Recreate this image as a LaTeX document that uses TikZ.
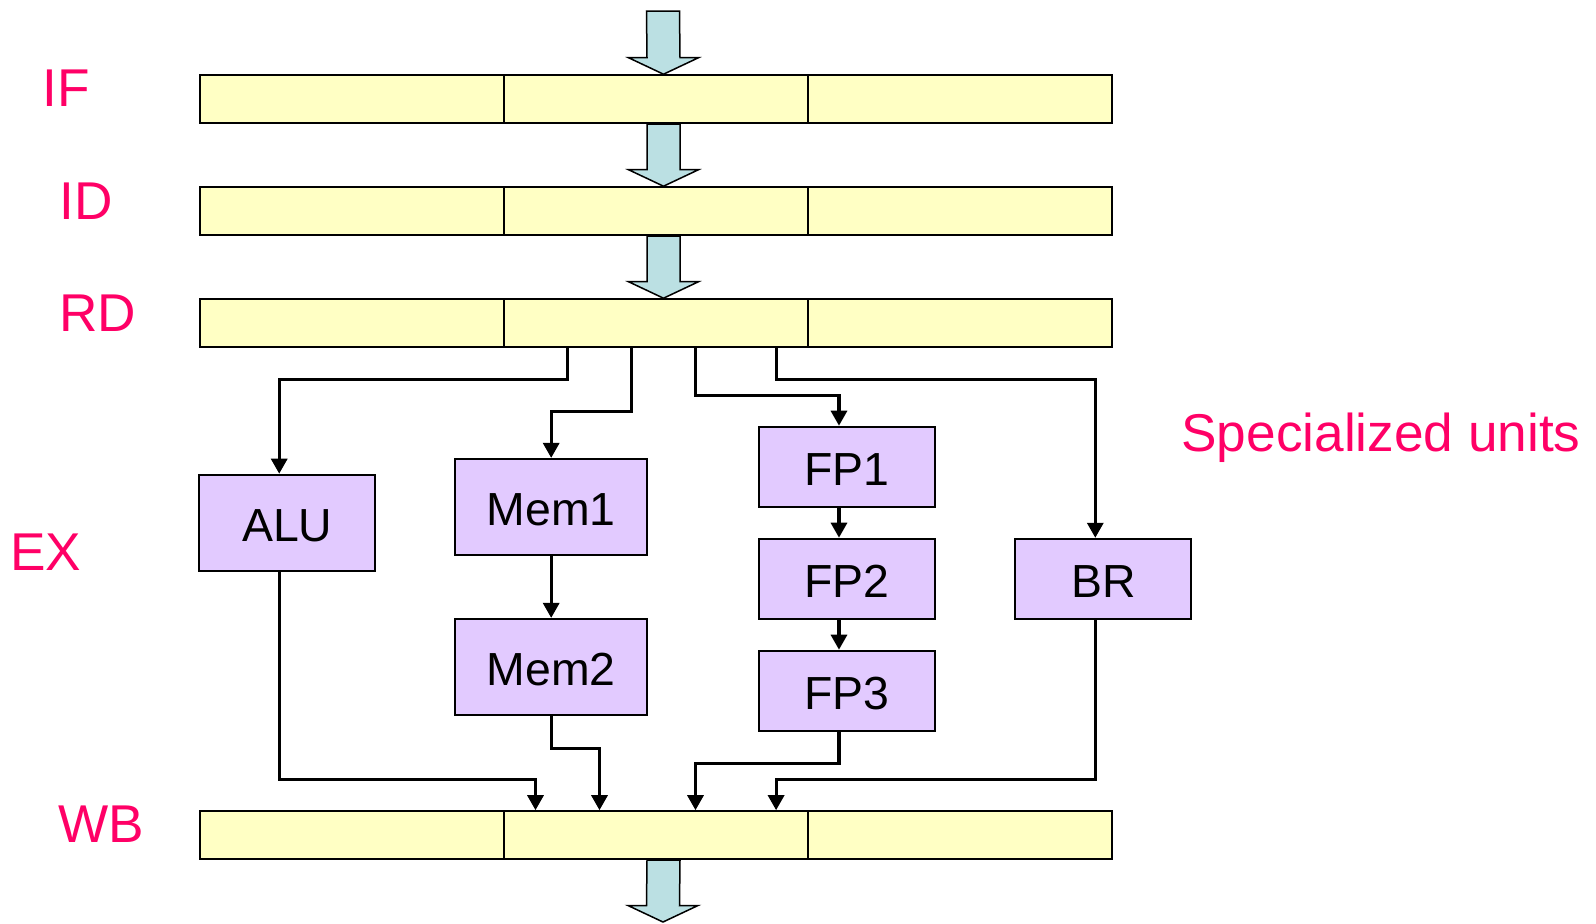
\documentclass[tikz,border=0pt]{standalone}
\usepackage{fontspec}
\setmainfont{Liberation Sans}
\usetikzlibrary{arrows.meta, positioning, calc}

\definecolor{latchyellow}{HTML}{FFFFC4}
\definecolor{unitpurple}{HTML}{E2CAFF}
\definecolor{pipecyan}{HTML}{BBE0E3}
\definecolor{stagepink}{HTML}{FF0066}

% wide hollow arrow from the shaft top #1 down to the tip #2
\newcommand{\pipearrow}[2]{%
  \draw[pipe] ($(#1)+(-16.5,0)$) -- ($(#2)+(-16.5,-16.5)$) -- ($(#2)+(-35,-16.5)$)
    -- (#2) -- ($(#2)+(35,-16.5)$) -- ($(#2)+(16.5,-16.5)$) -- ($(#1)+(16.5,0)$) -- cycle;}

\begin{document}
\begin{tikzpicture}[
    x=0.5pt, y=-0.5pt, % one unit is one pixel, y grows downwards
    cell/.style={draw, fill=latchyellow, line width=1pt, inner sep=0pt,
      minimum width=152pt, minimum height=24pt},
    unit/.style={draw, fill=unitpurple, line width=1pt, inner sep=0pt,
      minimum width=88pt, minimum height=40pt, text height=19pt, text depth=0pt,
      font={\fontsize{23.2}{26}\selectfont}},
    stage/.style={text=stagepink, inner sep=0pt, anchor=base west,
      font={\fontsize{26.6}{30}\selectfont}},
    pipe/.style={draw, fill=pipecyan, line width=0.75pt},
    flow/.style={draw, line width=1.6pt, -{Triangle[length=7.5pt, width=8pt]}}
  ]
  \useasboundingbox (0,0) rectangle (1596,923);

  % pipeline latches, three slots each
  \foreach \st/\y in {if/99.2, id/211.2, rd/323.2, wb/835.2} {
    \foreach \i in {1,2,3} {
      \node[cell] (\st\i) at ({199.5+304*(\i-0.5)}, \y) {};
    }
    \coordinate (\st-top) at ($(\st2.north)+(8,0)$);
    \coordinate (\st-bot) at ($(\st2.south)+(8,0)$);
  }
  \coordinate (fetch) at (663,11);
  \coordinate (retire) at (663,922);

  \pipearrow{fetch}{if-top}
  \pipearrow{if-bot}{id-top}
  \pipearrow{id-bot}{rd-top}
  \pipearrow{wb-bot}{retire}

  % stage names
  \node[stage] (lif) at (42,106) {IF};
  \node[stage] (lid) at (59,219) {ID};
  \node[stage] (lrd) at (59,331) {RD};
  \node[stage] (lex) at (10,570) {EX};
  \node[stage] (lwb) at (58,842) {WB};
  \node[stage, anchor=base east] (lspec) at (1581,451) {Specialized units};

  % execution units
  \node[unit, minimum height=48pt] (alu) at (287.2,522.7) {ALU};
  \node[unit, minimum width=96pt, minimum height=48pt] (mem1) at (551.2,506.9) {Mem1};
  \node[unit, minimum width=96pt, minimum height=48pt, below=31pt of mem1] (mem2) {Mem2};
  \node[unit] (fp1) at (847,466.7) {FP1};
  \node[unit, below=15pt of fp1] (fp2) {FP2};
  \node[unit, below=15pt of fp2] (fp3) {FP3};
  \node[unit] (br) at (1103.3,578.8) {BR};

  % issue from RD
  \draw[flow] ($(rd2.south)+(-88,0)$) -- ++(0,31.5) -| ($(alu.north)+(-8,0)$);
  \draw[flow] ($(rd2.south)+(-24,0)$) -- ++(0,63) -| (mem1.north);
  \draw[flow] ($(rd2.south)+(40,0)$) -- ++(0,47) -| ($(fp1.north)+(-8,0)$);
  \draw[flow] ($(rd2.south)+(120.6,0)$) -- ++(0,31.5) -| ($(br.north)+(-8,0)$);

  % inside the units
  \draw[flow] (mem1) -- (mem2);
  \draw[flow] ($(fp1.south)+(-8,0)$) -- ($(fp2.north)+(-8,0)$);
  \draw[flow] ($(fp2.south)+(-8,0)$) -- ($(fp3.north)+(-8,0)$);

  % results into WB
  \draw[flow] ($(alu.south)+(-8,0)$) -- ++(0,207.7) -| ($(wb2.north)+(-120,0)$);
  \draw[flow] (mem2.south) -- ++(0,32.6) -| ($(wb2.north)+(-56,0)$);
  \draw[flow] ($(fp3.south)+(-8,0)$) -- ++(0,31.6) -| ($(wb2.north)+(40,0)$);
  \draw[flow] ($(br.south)+(-8,0)$) -- ++(0,160) -| ($(wb2.north)+(120.6,0)$);

\end{tikzpicture}
\end{document}
